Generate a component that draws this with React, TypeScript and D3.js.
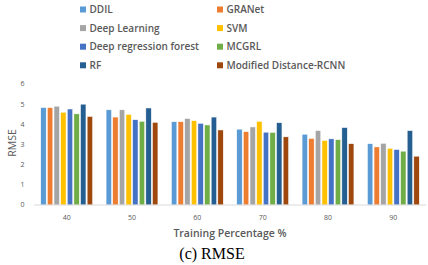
import React from 'react';
import * as d3 from 'd3';

const groups = ['40', '50', '60', '70', '80', '90'];
const seriesNames = ['DDIL', 'GRANet', 'Deep Learning', 'SVM', 'Deep regression forest', 'MCGRL', 'RF', 'Modified Distance-RCNN'];
const colors = ['#5B9BD5', '#ED7D31', '#A5A5A5', '#FFC000', '#4472C4', '#70AD47', '#255E91', '#9E480E'];

const ddil = [4.83, 4.72, 4.13, 3.76, 3.51, 3.04];
const granet = [4.83, 4.36, 4.13, 3.64, 3.3, 2.88];
const deepLearning = [4.9, 4.72, 4.29, 3.87, 3.69, 3.06];
const svm = [4.6, 4.49, 4.18, 4.15, 3.2, 2.81];
const deepForest = [4.76, 4.23, 4.05, 3.61, 3.28, 2.75];
const mcgrl = [4.52, 4.15, 3.97, 3.6, 3.24, 2.67];
const rf = [5.0, 4.81, 4.36, 4.08, 3.84, 3.69];
const mdRcnn = [4.39, 4.1, 3.72, 3.38, 3.04, 2.42];
const series = [ddil, granet, deepLearning, svm, deepForest, mcgrl, rf, mdRcnn];

const yTicks = [0, 1, 2, 3, 4, 5, 6];

const W = 428, H = 265;
const font = '"Open Sans", sans-serif';

export default function App() {
  const x0 = d3.scaleBand().domain(groups).range([34, 426]).paddingInner(0.17).paddingOuter(0.085);
  const x1 = d3.scaleBand().domain(seriesNames).range([0, x0.bandwidth()]).padding(0.18);
  const y = d3.scaleLinear().domain([0, 6]).range([205, 84]);

  return (
    <div style={{ position: 'absolute', left: 0, top: 0 }}>
      <svg width={W} height={H} style={{ display: 'block', background: '#fff' }}>
        {/* legend */}
        {seriesNames.map((name, i) => {
          const col = i % 2, row = Math.floor(i / 2);
          const lx = col === 0 ? 80 : 217;
          const ly = 9.5 + row * 18.6;
          return (
            <g key={name} transform={`translate(${lx},${ly})`}>
              <rect x={0} y={-3} width={6} height={6} fill={colors[i]} />
              <text x={9.5} y={0} dy="0.35em" fontFamily={font} fontWeight={600} fontSize={10} fill="#595959">{name}</text>
            </g>
          );
        })}

        {/* y ticks */}
        {yTicks.map(t => (
          <text key={t} x={24.5} y={y(t)} dy="0.35em" textAnchor="end" fontFamily={font} fontSize={7} fill="#595959">{t}</text>
        ))}
        <text transform={`translate(12,143) rotate(-90)`} textAnchor="middle" dy="0.35em" fontFamily={font} fontSize={10.5} fill="#595959">RMSE</text>

        {/* bars */}
        {groups.map((g, gi) => (
          <g key={g} transform={`translate(${x0(g)},0)`}>
            {series.map((vals, si) => (
              <rect key={si} x={x1(seriesNames[si])} y={y(vals[gi])} width={x1.bandwidth()} height={y(0) - y(vals[gi])}
                fill={colors[si]} stroke="#fff" strokeWidth={0.5} />
            ))}
          </g>
        ))}
        <line x1={34} x2={426} y1={y(0)} y2={y(0)} stroke="#D9D9D9" strokeWidth={1} />

        {/* x ticks */}
        {groups.map(g => (
          <text key={g} x={(x0(g) ?? 0) + x0.bandwidth() / 2} y={218} dy="0.35em" textAnchor="middle" fontFamily={font} fontSize={7} fill="#595959">{g}</text>
        ))}
        <text x={230} y={233.5} dy="0.35em" textAnchor="middle" fontFamily={font} fontWeight={600} fontSize={10.5} fill="#595959">Training Percentage %</text>
        <text x={212} y={253} dy="0.35em" textAnchor="middle" fontFamily='"Liberation Serif", "Times New Roman", serif' fontSize={16} fill="#000">(c) RMSE</text>
      </svg>
    </div>
  );
}
